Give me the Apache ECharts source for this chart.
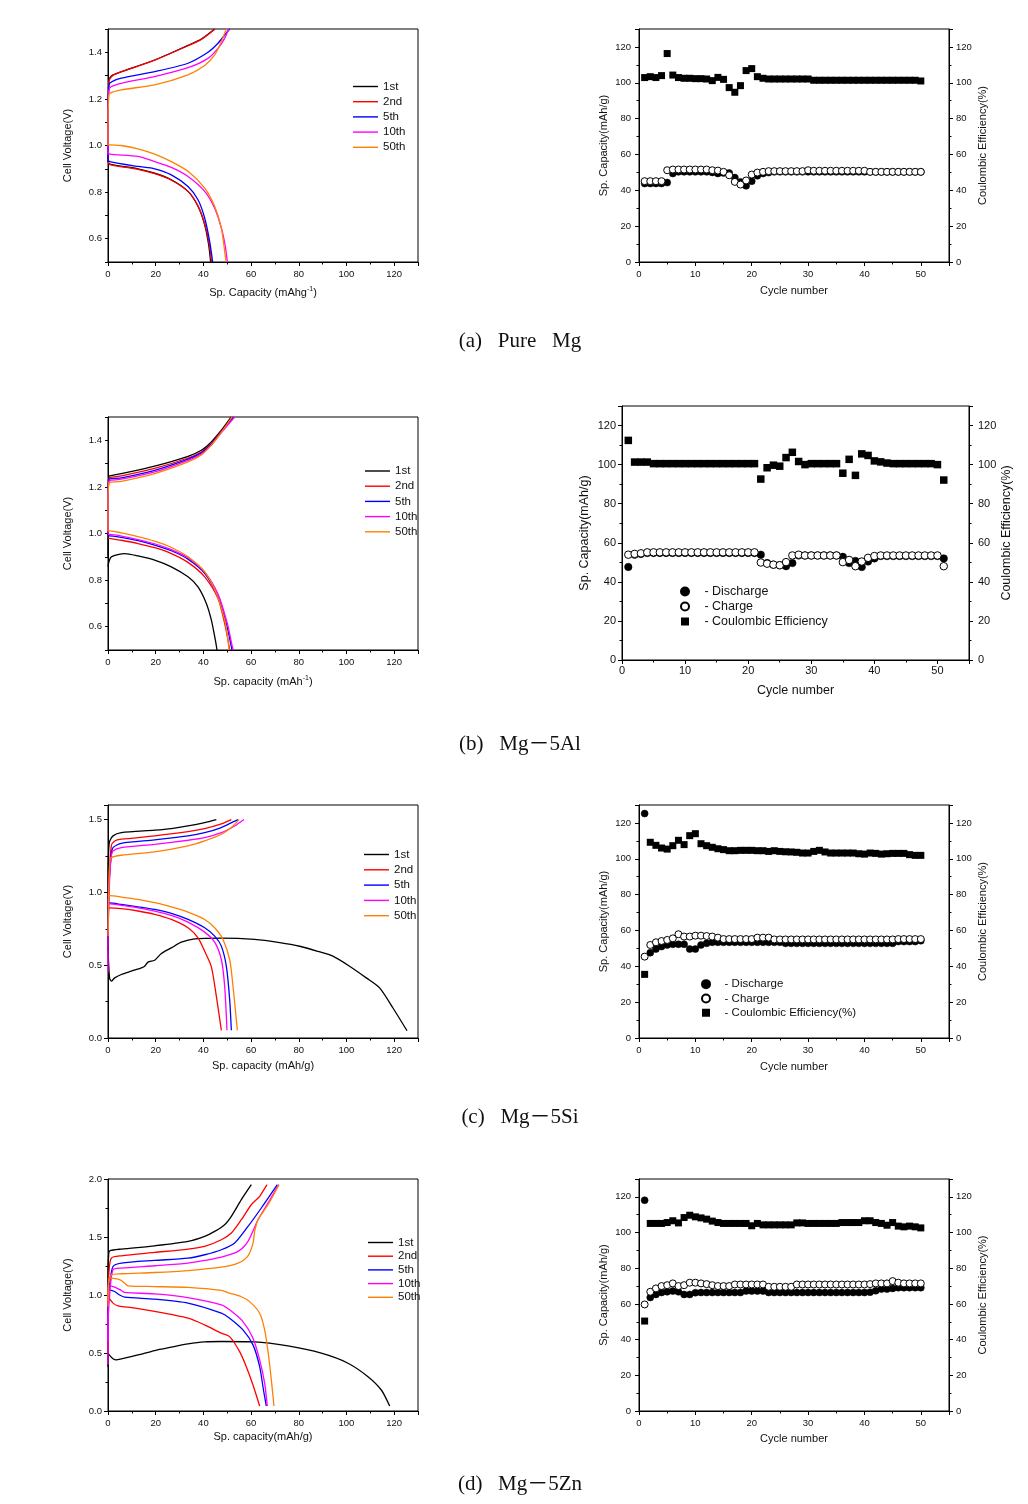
<!DOCTYPE html>
<html><head><meta charset="utf-8">
<script src="https://cdn.jsdelivr.net/npm/echarts@6/dist/echarts.min.js"></script>
<style>html,body{margin:0;padding:0;background:#fff}#c{width:1028px;height:1504px}</style>
</head><body><div id="c"></div><script>
// ---------- legend / cycle names ----------
const cycleNames = ['1st', '2nd', '5th', '10th', '50th'];
const cycleColors = ['#000000', '#ff0000', '#0000ff', '#ff00ff', '#ff8000'];

// ---------- (a) Pure Mg : voltage profiles [capacity mAh/g, voltage V] ----------
const pureMg_ch_1st = [[0,0.93],[0,1.1],[0.3,1.27],[0.7,1.289],[2.1,1.303],[5.59,1.317],[19.57,1.367],[33.55,1.43],[39.14,1.457],[44.73,1.5]];
const pureMg_ch_2nd = [[0,0.93],[0,1.1],[0.3,1.265],[0.7,1.285],[2.1,1.301],[5.59,1.316],[19.57,1.366],[33.55,1.428],[39.14,1.455],[44.9,1.5]];
const pureMg_ch_5th = [[0,0.93],[0,1.1],[0.3,1.245],[0.7,1.267],[5.59,1.289],[19.57,1.317],[33.55,1.353],[41.93,1.4],[46.13,1.439],[48.92,1.474],[51.02,1.5]];
const pureMg_ch_10th = [[0,0.96],[0,1.1],[0.3,1.235],[1.4,1.253],[5.59,1.267],[19.57,1.296],[33.55,1.334],[41.93,1.374],[46.13,1.417],[48.92,1.46],[50.6,1.5]];
const pureMg_ch_50th = [[0,1.0],[0,1.1],[0.3,1.21],[0.7,1.224],[5.59,1.239],[19.57,1.26],[33.55,1.303],[40.54,1.343],[44.73,1.389],[47.53,1.446],[49.62,1.5]];
const pureMg_dis_1st = [[0,0.935],[0.7,0.92],[12.58,0.9],[19.57,0.881],[26.56,0.853],[33.55,0.803],[37.74,0.739],[40.54,0.66],[42.21,0.574],[43.05,0.5]];
const pureMg_dis_2nd = [[0,0.93],[0.7,0.918],[12.58,0.898],[19.57,0.879],[26.56,0.851],[33.55,0.803],[37.74,0.741],[40.54,0.664],[42.4,0.58],[43.4,0.5]];
const pureMg_dis_5th = [[0,0.94],[0.7,0.931],[12.58,0.91],[19.57,0.9],[26.56,0.874],[33.55,0.824],[37.74,0.767],[40.54,0.689],[42.63,0.589],[43.89,0.5]];
const pureMg_dis_10th = [[0,0.97],[0.7,0.963],[12.58,0.953],[19.57,0.931],[26.56,0.906],[33.55,0.867],[40.54,0.803],[44.73,0.731],[47.53,0.646],[49.2,0.567],[50.04,0.5]];
const pureMg_dis_50th = [[0,1.005],[0.7,1.003],[5.59,1.0],[12.58,0.986],[19.57,0.963],[26.56,0.931],[33.55,0.889],[40.54,0.817],[44.73,0.739],[47.53,0.646],[48.92,0.546],[49.48,0.5]];

// ---------- (b) Mg-5Al ----------
const mg5Al_ch_1st = [[0,0.9],[0,1.15],[0.3,1.24],[0.7,1.247],[5.59,1.257],[19.57,1.289],[33.55,1.331],[39.14,1.357],[43.33,1.393],[47.53,1.443],[51.72,1.5]];
const mg5Al_ch_2nd = [[0,1.0],[0,1.15],[0.3,1.232],[0.7,1.24],[5.59,1.247],[19.57,1.279],[33.55,1.324],[39.14,1.35],[43.33,1.386],[47.53,1.439],[52.42,1.5]];
const mg5Al_ch_5th = [[0,1.0],[0,1.15],[0.3,1.228],[0.7,1.234],[5.59,1.239],[19.57,1.271],[33.55,1.319],[39.14,1.346],[43.33,1.383],[47.53,1.436],[52.7,1.5]];
const mg5Al_ch_10th = [[0,1.0],[0,1.15],[0.3,1.222],[0.7,1.228],[5.59,1.233],[19.57,1.264],[33.55,1.314],[39.14,1.341],[43.33,1.38],[47.53,1.433],[53.12,1.5]];
const mg5Al_ch_50th = [[0,1.01],[0,1.15],[0.3,1.215],[0.7,1.22],[5.59,1.224],[19.57,1.257],[33.55,1.307],[39.14,1.337],[43.33,1.379],[47.53,1.434],[52.0,1.5]];
const mg5Al_dis_1st = [[0,0.857],[0.4,0.88],[1.4,0.9],[6.99,0.914],[12.58,0.904],[19.57,0.886],[26.56,0.857],[33.55,0.814],[37.74,0.771],[41.24,0.7],[43.33,0.629],[45.01,0.543],[45.71,0.5]];
const mg5Al_dis_2nd = [[0,0.98],[0.7,0.979],[5.59,0.971],[12.58,0.957],[19.57,0.939],[26.56,0.914],[33.55,0.876],[40.54,0.814],[46.13,0.721],[48.92,0.614],[50.32,0.543],[51.02,0.5]];
const mg5Al_dis_5th = [[0,0.99],[0.7,0.99],[5.59,0.983],[12.58,0.969],[19.57,0.95],[26.56,0.926],[33.55,0.89],[40.54,0.829],[46.13,0.729],[49.62,0.614],[51.44,0.529],[52.0,0.5]];
const mg5Al_dis_10th = [[0,0.996],[0.7,0.996],[5.59,0.989],[12.58,0.974],[19.57,0.956],[26.56,0.931],[33.55,0.896],[40.54,0.834],[46.13,0.74],[50.04,0.614],[52.14,0.514],[52.56,0.5]];
const mg5Al_dis_50th = [[0,1.011],[0.7,1.011],[5.59,1.003],[12.58,0.987],[19.57,0.967],[26.56,0.94],[33.55,0.9],[40.54,0.836],[45.43,0.743],[48.92,0.629],[50.32,0.543],[50.74,0.5]];

// ---------- (c) Mg-5Si ----------
const mg5Si_ch_1st = [[0,0.6],[0,1.1],[0.3,1.3],[0.7,1.351],[2.1,1.388],[5.59,1.41],[19.57,1.427],[26.56,1.438],[33.55,1.456],[40.54,1.479],[45.43,1.5]];
const mg5Si_ch_2nd = [[0,0.9],[0.4,1.1],[1.4,1.319],[2.8,1.353],[5.59,1.365],[19.57,1.388],[33.55,1.417],[40.54,1.438],[47.53,1.47],[51.72,1.5]];
const mg5Si_ch_5th = [[0,0.7],[0.6,1.1],[1.4,1.26],[2.1,1.307],[5.59,1.337],[19.57,1.36],[33.55,1.388],[40.54,1.41],[47.53,1.445],[52.42,1.484],[54.52,1.5]];
const mg5Si_ch_10th = [[0,0.45],[0,0.6],[0.7,1.1],[1.4,1.25],[2.1,1.284],[5.59,1.307],[19.57,1.33],[33.55,1.358],[40.54,1.376],[47.53,1.41],[53.12,1.456],[57.03,1.5]];
const mg5Si_ch_50th = [[0,0.7],[0.3,1.0],[0.7,1.2],[1.4,1.239],[5.59,1.255],[19.57,1.278],[33.55,1.319],[40.54,1.353],[47.53,1.399],[51.72,1.445],[54.94,1.5]];
const mg5Si_dis_1st = [[0,0.62],[0.3,0.5],[0.7,0.41],[1.4,0.39],[2.8,0.413],[5.59,0.436],[9.78,0.459],[13.98,0.482],[15.38,0.493],[16.77,0.521],[19.57,0.534],[22.37,0.58],[26.56,0.619],[30.75,0.658],[36.34,0.681],[47.53,0.686],[61.5,0.677],[72.0,0.655],[80.4,0.63],[88.0,0.595],[94.3,0.562],[101.3,0.493],[108.3,0.413],[113.9,0.344],[119.5,0.206],[125.4,0.05]];
const mg5Si_dis_2nd = [[0,0.88],[0.7,0.894],[5.59,0.888],[12.58,0.872],[19.57,0.849],[26.56,0.814],[33.55,0.757],[37.74,0.688],[40.54,0.596],[43.33,0.49],[45.43,0.287],[47.53,0.053]];
const mg5Si_dis_5th = [[0,0.92],[0.7,0.927],[5.59,0.917],[12.58,0.901],[19.57,0.883],[26.56,0.856],[33.55,0.814],[40.54,0.757],[44.73,0.7],[47.53,0.631],[49.62,0.493],[51.02,0.264],[51.72,0.053]];
const mg5Si_dis_10th = [[0,0.92],[0.7,0.922],[5.59,0.911],[12.58,0.894],[19.57,0.872],[26.56,0.842],[33.55,0.796],[40.54,0.727],[44.73,0.658],[47.53,0.539],[48.92,0.356],[49.9,0.053]];
const mg5Si_dis_50th = [[0,0.975],[0.7,0.977],[5.59,0.968],[12.58,0.952],[19.57,0.929],[26.56,0.901],[33.55,0.865],[40.54,0.814],[44.73,0.757],[48.22,0.677],[51.02,0.539],[52.42,0.356],[54.24,0.053]];

// ---------- (d) Mg-5Zn ----------
const mg5Zn_ch_1st = [[0,0.5],[0,1.2],[0.3,1.353],[0.7,1.381],[5.59,1.396],[19.57,1.424],[33.55,1.462],[40.54,1.505],[44.73,1.548],[48.92,1.606],[51.72,1.678],[55.91,1.822],[60.11,1.951]];
const mg5Zn_ch_2nd = [[0,0.95],[0.4,1.2],[1.4,1.318],[5.59,1.338],[19.57,1.367],[33.55,1.396],[40.54,1.419],[47.53,1.476],[51.72,1.534],[55.91,1.649],[60.11,1.778],[63.6,1.85],[66.68,1.951]];
const mg5Zn_ch_5th = [[0,0.95],[0.7,1.1],[2.1,1.246],[5.59,1.275],[19.57,1.298],[33.55,1.318],[40.54,1.347],[47.53,1.39],[53.12,1.448],[58.71,1.591],[64.3,1.75],[71.01,1.951]];
const mg5Zn_ch_10th = [[0,0.4],[0,0.7],[0.7,1.0],[2.1,1.217],[5.59,1.232],[19.57,1.252],[33.55,1.275],[40.54,1.298],[47.53,1.327],[54.52,1.376],[58.71,1.462],[62.9,1.649],[67.1,1.793],[71.57,1.951]];
const mg5Zn_ch_50th = [[0,0.95],[0.3,1.1],[1.4,1.174],[5.59,1.183],[19.57,1.194],[33.55,1.211],[47.53,1.24],[54.52,1.275],[58.71,1.338],[60.81,1.447],[61.5,1.548],[62.9,1.649],[67.1,1.778],[71.71,1.951]];
const mg5Zn_dis_1st = [[0,0.38],[0,0.5],[0.7,0.48],[2.1,0.45],[3.49,0.44],[5.59,0.449],[12.58,0.483],[19.57,0.521],[26.56,0.55],[33.55,0.578],[40.54,0.596],[47.53,0.599],[61.5,0.596],[75.48,0.561],[89.46,0.498],[100.64,0.412],[109.03,0.296],[114.62,0.181],[118.12,0.043]];
const mg5Zn_dis_2nd = [[0,0.5],[0.4,0.973],[2.1,0.93],[4.19,0.906],[8.39,0.895],[19.57,0.858],[33.55,0.8],[40.54,0.742],[47.53,0.671],[51.0,0.641],[55.2,0.512],[58.0,0.382],[60.8,0.224],[63.6,0.043]];
const mg5Zn_dis_5th = [[0,0.6],[0.4,1.045],[2.8,1.03],[4.89,1.0],[6.99,0.981],[19.57,0.964],[33.55,0.93],[47.53,0.843],[51.0,0.8],[56.6,0.699],[60.8,0.57],[63.6,0.382],[65.2,0.181],[66.4,0.043]];
const mg5Zn_dis_10th = [[0,0.6],[0.4,1.079],[2.8,1.068],[5.59,1.039],[6.99,1.022],[19.57,1.01],[33.55,0.978],[47.53,0.915],[51.0,0.872],[56.6,0.771],[60.8,0.627],[63.6,0.44],[65.7,0.239],[66.8,0.043]];
const mg5Zn_dis_50th = [[0,0.9],[0.4,1.145],[4.19,1.137],[5.59,1.125],[6.99,1.102],[8.39,1.079],[19.57,1.073],[33.55,1.065],[47.53,1.039],[51.0,1.016],[55.9,0.985],[59.4,0.943],[63.6,0.843],[65.7,0.699],[67.2,0.498],[68.5,0.268],[69.6,0.043]];

// ---------- cycling data ----------
const cycles50 = [1,2,3,4,5,6,7,8,9,10,11,12,13,14,15,16,17,18,19,20,21,22,23,24,25,26,27,28,29,30,31,32,33,34,35,36,37,38,39,40,41,42,43,44,45,46,47,48,49,50];
const cycles51 = [1,2,3,4,5,6,7,8,9,10,11,12,13,14,15,16,17,18,19,20,21,22,23,24,25,26,27,28,29,30,31,32,33,34,35,36,37,38,39,40,41,42,43,44,45,46,47,48,49,50,51];

const pureMg_discharge = [43.8,43.8,43.8,43.8,44.3,49.4,50.3,50.3,50.3,50.3,50.3,50.3,50.0,49.4,49.7,49.7,47.1,44.7,42.5,45.1,48.1,49.4,49.9,50.3,50.3,50.3,50.3,50.3,50.3,50.3,50.3,50.3,50.3,50.3,50.3,50.3,50.3,50.3,50.3,50.3,50.3,50.3,50.3,50.3,50.3,50.3,50.3,50.3,50.3,50.3];
const pureMg_charge = [45.1,45.1,45.1,45.1,51.2,51.6,51.6,51.6,51.6,51.6,51.6,51.6,51.2,51.0,50.3,48.4,44.7,43.2,45.5,48.8,49.9,50.3,50.7,50.7,50.7,50.7,50.7,50.7,50.7,51.2,50.9,50.9,50.9,50.9,50.9,50.9,50.9,50.9,50.9,50.9,50.3,50.3,50.3,50.3,50.3,50.3,50.3,50.3,50.3,50.3];
const pureMg_ce = [102.9,103.4,102.9,104.0,116.3,104.3,102.9,102.5,102.5,102.3,102.3,102.1,101.2,103.0,101.9,97.3,94.7,98.4,106.8,107.9,103.4,102.5,102.1,102.1,102.1,102.1,102.1,102.1,102.1,102.1,101.4,101.4,101.4,101.4,101.4,101.4,101.4,101.4,101.4,101.4,101.4,101.4,101.4,101.4,101.4,101.4,101.4,101.4,101.4,101.0];

const mg5Al_discharge = [47.6,53.9,54.3,54.8,54.8,54.8,54.8,54.8,54.8,54.8,54.8,54.8,54.8,54.8,54.8,54.8,54.8,54.8,54.8,54.8,54.8,53.9,49.6,48.8,48.5,48.0,49.6,53.5,53.5,53.5,53.5,53.5,53.5,53.5,52.8,49.6,50.7,47.6,50.4,52.0,53.2,53.2,53.2,53.2,53.2,53.2,53.2,53.2,53.2,53.2,52.0];
const mg5Al_charge = [53.9,54.3,54.6,55.1,55.1,55.1,55.1,55.1,55.1,55.1,55.1,55.1,55.1,55.1,55.1,55.1,55.1,55.1,55.1,55.1,55.1,49.9,49.3,48.8,48.5,50.1,53.5,53.9,53.5,53.5,53.5,53.5,53.5,53.5,50.1,51.2,48.0,50.4,52.3,53.2,53.5,53.5,53.5,53.5,53.5,53.5,53.5,53.5,53.5,53.5,48.0];
const mg5Al_ce = [112.4,101.3,101.3,101.3,100.5,100.5,100.5,100.5,100.5,100.5,100.5,100.5,100.5,100.5,100.5,100.5,100.5,100.5,100.5,100.5,100.5,92.6,98.4,99.7,99.2,103.6,106.3,101.6,100.0,100.5,100.5,100.5,100.5,100.5,95.6,102.7,94.5,105.5,104.7,101.9,101.4,100.8,100.5,100.5,100.5,100.5,100.5,100.5,100.5,100.0,92.1];

const mg5Si_discharge = [125.2,47.6,49.6,51.0,51.9,52.3,52.3,52.3,49.6,49.6,51.9,52.8,53.4,53.4,53.4,53.4,53.4,53.4,53.4,53.4,53.4,53.4,53.4,53.4,53.4,52.8,52.8,52.8,52.8,52.8,52.8,52.8,52.8,52.8,52.8,52.8,52.8,52.8,52.8,52.8,52.8,52.8,52.8,52.8,52.8,53.8,53.8,53.8,53.8,54.3];
const mg5Si_charge = [45.4,51.9,53.4,54.1,54.7,55.6,57.9,56.6,56.6,57.1,57.1,56.9,56.6,56.0,55.2,55.2,55.2,55.2,55.2,55.2,56.0,56.0,56.0,55.0,55.0,55.0,55.0,55.0,55.0,55.0,55.0,55.0,55.0,55.0,55.0,55.0,55.0,55.0,55.0,55.0,55.0,55.0,55.0,55.0,55.0,55.2,55.2,55.2,55.2,55.2];
const mg5Si_ce = [35.5,109.2,107.5,106.0,105.4,107.3,110.3,107.9,112.9,114.0,108.4,107.3,106.4,105.6,105.1,104.5,104.5,104.7,104.7,104.7,104.5,104.5,104.1,104.5,104.1,103.9,103.8,103.6,103.2,103.2,104.1,104.7,103.8,103.2,103.2,103.2,103.2,103.2,102.8,102.6,103.2,103.0,102.6,102.8,103.0,103.0,103.0,102.3,101.9,101.9];

const mg5Zn_discharge = [118.1,63.6,65.3,66.4,66.8,67.2,66.8,65.3,65.3,66.3,66.4,66.4,66.4,66.4,66.4,66.4,66.4,66.4,67.2,67.2,67.2,67.2,66.4,66.4,66.4,66.4,66.4,66.4,66.4,66.4,66.4,66.4,66.4,66.4,66.4,66.4,66.4,66.4,66.4,66.4,66.6,67.4,68.3,68.3,68.7,69.1,69.1,69.1,69.1,69.1];
const mg5Zn_charge = [59.7,66.8,68.7,70.0,70.5,71.5,70.0,70.5,71.9,71.9,71.5,71.1,70.5,70.0,70.0,70.0,70.9,70.9,70.9,70.9,70.9,70.9,69.6,69.6,69.6,69.6,69.6,70.9,70.9,70.9,70.9,70.9,70.9,70.9,70.9,70.9,70.9,70.9,70.9,70.9,71.1,71.5,71.5,71.5,72.8,71.9,71.5,71.5,71.5,71.5];
const mg5Zn_ce = [50.4,105.1,105.1,105.1,105.6,106.6,105.4,108.4,109.7,108.8,108.2,107.5,106.4,105.6,105.1,105.1,105.1,105.1,105.1,103.8,105.1,104.3,104.3,104.3,104.3,104.3,104.3,105.4,105.4,105.1,105.1,105.1,105.1,105.1,105.1,105.6,105.6,105.6,105.6,106.6,106.6,105.6,105.1,104.1,105.6,103.6,103.2,103.6,103.2,102.6];

// ---------- captions ----------
const captions = ['(a)   Pure   Mg', '(b)   Mg\uFF0D5Al', '(c)   Mg\uFF0D5Si', '(d)   Mg\uFF0D5Zn'];

// ================= build chart =================
const FONT = "'Liberation Sans Narrow','Liberation Sans',Arial,sans-serif";
const TXT = '#111';
const chart = echarts.init(document.getElementById('c'), null, {renderer: 'canvas'});

const grids = [
  {left:108, top:29, width:310, height:233},   // 0 a-left
  {left:639, top:29, width:310, height:233},   // 1 a-right
  {left:108, top:417, width:310, height:233},  // 2 b-left
  {left:622, top:406, width:347, height:254},  // 3 b-right
  {left:108, top:805, width:310, height:233},  // 4 c-left
  {left:639, top:805, width:310, height:233},  // 5 c-right
  {left:108, top:1179, width:310, height:232}, // 6 d-left
  {left:639, top:1179, width:310, height:232}  // 7 d-right
].map(g => Object.assign({show:true, borderColor:'#000', borderWidth:1, containLabel:false}, g));

function baseAxis(o) {
  return Object.assign({
    type:'value',
    axisLine:{show:true, onZero:false, lineStyle:{color:'#000', width:1}},
    axisTick:{show:true, length:4, lineStyle:{color:'#000'}},
    minorTick:{show:true, splitNumber:2, length:2.5, lineStyle:{color:'#000'}},
    splitLine:{show:false}, minorSplitLine:{show:false},
    nameLocation:'middle',
    nameTextStyle:{fontFamily:FONT, fontSize:11, color:TXT}
  }, o);
}
function lbl(o) { return Object.assign({fontFamily:FONT, fontSize:9.5, color:TXT, showMaxLabel:false, showMinLabel:true}, o); }

const capNameA = 'Sp. Capacity (mAhg{sup|-1})';
const capNameB = 'Sp. capacity (mAh{sup|-1})';
const supRich = {sup:{fontSize:7, fontFamily:FONT, color:TXT, verticalAlign:'top', padding:[0,0,6,0]}};

const xAxes = [
  baseAxis({gridIndex:0, min:0, max:130, interval:20, name:capNameA, nameGap:24, nameTextStyle:{fontFamily:FONT, fontSize:11, color:TXT, rich:supRich}, axisLabel:lbl({margin:7})}),
  baseAxis({gridIndex:1, min:0, max:55, interval:10, name:'Cycle number', nameGap:23, axisLabel:lbl({margin:7})}),
  baseAxis({gridIndex:2, min:0, max:130, interval:20, name:capNameB, nameGap:25, nameTextStyle:{fontFamily:FONT, fontSize:11, color:TXT, rich:supRich}, axisLabel:lbl({margin:7})}),
  baseAxis({gridIndex:3, min:0, max:55, interval:10, name:'Cycle number', nameGap:24, nameTextStyle:{fontFamily:FONT, fontSize:12.5, color:TXT}, axisLabel:lbl({margin:5, fontSize:11})}),
  baseAxis({gridIndex:4, min:0, max:130, interval:20, name:'Sp. capacity (mAh/g)', nameGap:22, axisLabel:lbl({margin:7})}),
  baseAxis({gridIndex:5, min:0, max:55, interval:10, name:'Cycle number', nameGap:23, axisLabel:lbl({margin:7})}),
  baseAxis({gridIndex:6, min:0, max:130, interval:20, name:'Sp. capacity(mAh/g)', nameGap:20, axisLabel:lbl({margin:7})}),
  baseAxis({gridIndex:7, min:0, max:55, interval:10, name:'Cycle number', nameGap:22, axisLabel:lbl({margin:7})})
];

function tenthsFmt(v) { const t = Math.round(v * 10); return (t % 2 === 0 && t >= 6 && t <= 14) ? (t / 10).toFixed(1) : ''; }
function oneDec(v) { return v.toFixed(1); }

function capL(gi, name, gap, fs, lfs, margin) {
  return baseAxis({gridIndex:gi, position:'left', min:0, max:130, interval:20, name:name, nameGap:gap,
    nameTextStyle:{fontFamily:FONT, fontSize:fs, color:TXT}, axisLabel:lbl({margin:margin, fontSize:lfs})});
}
function capR(gi, name, gap, fs, lfs, margin) {
  return baseAxis({gridIndex:gi, position:'right', min:0, max:130, interval:20, name:name, nameGap:gap, nameRotate:90,
    nameTextStyle:{fontFamily:FONT, fontSize:fs, color:TXT}, axisLabel:lbl({margin:margin, fontSize:lfs})});
}

const yAxes = [
  baseAxis({gridIndex:0, min:0.5, max:1.5, interval:0.1, name:'Cell Voltage(V)', nameGap:35, minorTick:{show:false}, axisTick:{show:true, length:3, lineStyle:{color:'#000'}}, axisLabel:lbl({formatter:tenthsFmt, margin:6, showMaxLabel:true})}),
  capL(1, 'Sp. Capacity(mAh/g)', 30, 11, 9.5, 8),
  capR(1, 'Coulombic Efficiency(%)', 28, 11, 9.5, 7),
  baseAxis({gridIndex:2, min:0.5, max:1.5, interval:0.1, name:'Cell Voltage(V)', nameGap:35, minorTick:{show:false}, axisTick:{show:true, length:3, lineStyle:{color:'#000'}}, axisLabel:lbl({formatter:tenthsFmt, margin:6, showMaxLabel:true})}),
  capL(3, 'Sp. Capacity(mAh/g)', 31, 12.5, 11, 6),
  capR(3, 'Coulombic Efficiency(%)', 29, 12.5, 11, 9),
  baseAxis({gridIndex:4, min:0, max:1.6, interval:0.5, name:'Cell Voltage(V)', nameGap:35, axisLabel:lbl({formatter:oneDec, margin:6})}),
  capL(5, 'Sp. Capacity(mAh/g)', 30, 11, 9.5, 8),
  capR(5, 'Coulombic Efficiency(%)', 28, 11, 9.5, 7),
  baseAxis({gridIndex:6, min:0, max:2.0, interval:0.5, name:'Cell Voltage(V)', nameGap:35, axisLabel:lbl({formatter:oneDec, margin:6, showMaxLabel:true})}),
  capL(7, 'Sp. Capacity(mAh/g)', 30, 11, 9.5, 8),
  capR(7, 'Coulombic Efficiency(%)', 28, 11, 9.5, 7)
];

const series = [];
function addProfiles(xi, yi, charges, discharges) {
  for (let k = 0; k < cycleNames.length; k++) {
    [charges[k], discharges[k]].forEach(d => series.push({
      type:'line', name:cycleNames[k], xAxisIndex:xi, yAxisIndex:yi, data:d,
      symbol:'none', showSymbol:false, smooth:0.25, clip:true,
      lineStyle:{color:cycleColors[k], width:1.3}, itemStyle:{color:cycleColors[k]}, z:2+k
    }));
  }
}
addProfiles(0, 0, [pureMg_ch_1st, pureMg_ch_2nd, pureMg_ch_5th, pureMg_ch_10th, pureMg_ch_50th],
                  [pureMg_dis_1st, pureMg_dis_2nd, pureMg_dis_5th, pureMg_dis_10th, pureMg_dis_50th]);
addProfiles(2, 3, [mg5Al_ch_1st, mg5Al_ch_2nd, mg5Al_ch_5th, mg5Al_ch_10th, mg5Al_ch_50th],
                  [mg5Al_dis_1st, mg5Al_dis_2nd, mg5Al_dis_5th, mg5Al_dis_10th, mg5Al_dis_50th]);
addProfiles(4, 6, [mg5Si_ch_1st, mg5Si_ch_2nd, mg5Si_ch_5th, mg5Si_ch_10th, mg5Si_ch_50th],
                  [mg5Si_dis_1st, mg5Si_dis_2nd, mg5Si_dis_5th, mg5Si_dis_10th, mg5Si_dis_50th]);
addProfiles(6, 9, [mg5Zn_ch_1st, mg5Zn_ch_2nd, mg5Zn_ch_5th, mg5Zn_ch_10th, mg5Zn_ch_50th],
                  [mg5Zn_dis_1st, mg5Zn_dis_2nd, mg5Zn_dis_5th, mg5Zn_dis_10th, mg5Zn_dis_50th]);

function addCycling(xi, yiL, yiR, cyc, dis, ch, ce, ceName, size) {
  series.push({type:'scatter', name:'Discharge', xAxisIndex:xi, yAxisIndex:yiL, symbol:'circle', symbolSize:size,
    itemStyle:{color:'#000', borderColor:'#000', borderWidth:0.5, opacity:1}, data:cyc.map((c, i) => [c, dis[i]]), z:3});
  series.push({type:'scatter', name:'Charge', xAxisIndex:xi, yAxisIndex:yiL, symbol:'circle', symbolSize:size,
    itemStyle:{color:'#fff', borderColor:'#000', borderWidth:1, opacity:1}, data:cyc.map((c, i) => [c, ch[i]]), z:4});
  series.push({type:'scatter', name:ceName, xAxisIndex:xi, yAxisIndex:yiR, symbol:'rect', symbolSize:size,
    itemStyle:{color:'#000', opacity:1}, data:cyc.map((c, i) => [c, ce[i]]), z:5});
}
addCycling(1, 1, 2, cycles50, pureMg_discharge, pureMg_charge, pureMg_ce, 'Coulombic Efficiency', 7);
addCycling(3, 4, 5, cycles51, mg5Al_discharge, mg5Al_charge, mg5Al_ce, 'Coulombic Efficiency', 7.5);
addCycling(5, 7, 8, cycles50, mg5Si_discharge, mg5Si_charge, mg5Si_ce, 'Coulombic Efficiency(%)', 7);
addCycling(7, 10, 11, cycles50, mg5Zn_discharge, mg5Zn_charge, mg5Zn_ce, 'Coulombic Efficiency', 7);

function profLegend(left, top, gap) {
  return {data:cycleNames, orient:'vertical', left:left, top:top, icon:'rect', itemWidth:25, itemHeight:1.4, itemGap:gap,
    selectedMode:false, textStyle:{fontFamily:FONT, fontSize:11.5, color:TXT}};
}
function cycLegend(left, top, names, fs, lh) {
  return {data:names, orient:'vertical', left:left, top:top, itemWidth:8, itemHeight:8, itemGap:0,
    selectedMode:false, formatter:n => '   - ' + n,
    textStyle:{fontFamily:FONT, fontSize:fs, color:TXT, lineHeight:lh}};
}

const legends = [
  profLegend(348, 75.5, 3.2),
  profLegend(360, 460, 3.2),
  profLegend(359, 843.5, 3.3),
  profLegend(363, 1231.5, 1.7),
  cycLegend(675, 579, ['Discharge', 'Charge', 'Coulombic Efficiency'], 12.5, 15),
  cycLegend(696, 972, ['Discharge', 'Charge', 'Coulombic Efficiency(%)'], 11.5, 14.3)
];

const captionY = [341, 744, 1117, 1484];
const graphics = captions.map((t, i) => ({
  type:'text', x:520, y:captionY[i], z:10,
  style:{text:t, fill:'#111', font:"21px 'Liberation Serif','DejaVu Serif','Noto Sans CJK KR',serif",
         fontSize:21, fontFamily:"'Liberation Serif','DejaVu Serif','Noto Sans CJK KR',serif",
         align:'center', verticalAlign:'middle', textAlign:'center', textVerticalAlign:'middle'}
}));

chart.setOption({
  animation:false,
  backgroundColor:'#fff',
  grid:grids, xAxis:xAxes, yAxis:yAxes, series:series, legend:legends, graphic:graphics
});
</script></body></html>
